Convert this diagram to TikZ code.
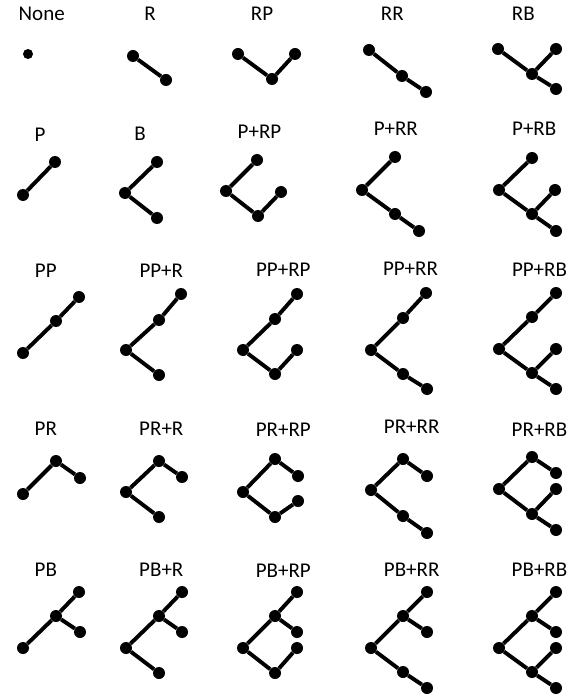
\documentclass[tikz,border=0pt]{standalone}
\usepackage{fontspec}
\setmainfont{Carlito}
\begin{document}
\begin{tikzpicture}[x=1pt,y=-1pt,
  dot/.style={circle,fill=black,inner sep=0pt,minimum size=12pt},
  edge/.style={line width=3.9pt,black},
  lbl/.style={anchor=base,inner sep=0pt,font=\fontsize{21}{25}\selectfont}]
\useasboundingbox (0,0) rectangle (579,700);
% ---------- labels ----------
\node[lbl] (tNone) at (41.7,20.5) {None};
\node[lbl] (tR) at (150,20.5) {R};
\node[lbl] (tRP) at (262,20.5) {RP};
\node[lbl] (tRR) at (392.3,20.5) {RR};
\node[lbl] (tRB) at (523.3,20.5) {RB};
\node[lbl] (tP) at (40,141.5) {P};
\node[lbl] (tB) at (140,141) {B};
\node[lbl] (tPRP) at (259.5,138.3) {P+RP};
\node[lbl] (tPRR) at (395.8,136) {P+RR};
\node[lbl] (tPRB) at (534.2,136) {P+RB};
\node[lbl] (tPP) at (45.8,277.3) {PP};
\node[lbl] (tPPR) at (161.3,277.3) {PP+R};
\node[lbl] (tPPRP) at (283.3,276.7) {PP+RP};
\node[lbl] (tPPRR) at (410.5,275) {PP+RR};
\node[lbl] (tPPRB) at (539.5,276.7) {PP+RB};
\node[lbl] (tPR) at (45.8,435) {PR};
\node[lbl] (tPRr) at (161.3,435) {PR+R};
\node[lbl] (tPRrp) at (283.3,436.7) {PR+RP};
\node[lbl] (tPRrr) at (411.7,433.3) {PR+RR};
\node[lbl] (tPRrb) at (539.5,436) {PR+RB};
\node[lbl] (tPB) at (45.8,576.7) {PB};
\node[lbl] (tPBR) at (161.3,576.7) {PB+R};
\node[lbl] (tPBRP) at (283.3,577) {PB+RP};
\node[lbl] (tPBRR) at (411.7,576.7) {PB+RR};
\node[lbl] (tPBRB) at (539.5,576.7) {PB+RB};
% ---------- row 1 ----------
\node[dot,minimum size=10pt] (none1) at (28,54) {};
\node[dot] (r1) at (133,56) {};
\node[dot] (r2) at (166,80) {};
\draw[edge] (r1) -- (r2);
\node[dot] (rp1) at (238,54) {};
\node[dot] (rp2) at (272,79) {};
\node[dot] (rp3) at (295,54) {};
\draw[edge] (rp1) -- (rp2) -- (rp3);
\node[dot] (rr1) at (369,50) {};
\node[dot] (rr2) at (402,76) {};
\node[dot] (rr3) at (426,92) {};
\draw[edge] (rr1) -- (rr2) -- (rr3);
\node[dot] (rb1) at (498,49) {};
\node[dot] (rb2) at (532,74) {};
\node[dot] (rb3) at (556,49) {};
\node[dot] (rb4) at (556,89) {};
\draw[edge] (rb1) -- (rb2) (rb2) -- (rb3) (rb2) -- (rb4);
% ---------- row 2 ----------
\node[dot] (p1) at (23,195) {};
\node[dot] (p2) at (55,162) {};
\draw[edge] (p1) -- (p2);
\node[dot] (b1) at (125,193) {};
\node[dot] (b2) at (157,162) {};
\node[dot] (b3) at (157,218) {};
\draw[edge] (b1) -- (b2) (b1) -- (b3);
\node[dot] (prp1) at (226,191) {};
\node[dot] (prp2) at (257,160) {};
\node[dot] (prp3) at (258,216) {};
\node[dot] (prp4) at (281,192) {};
\draw[edge] (prp1) -- (prp2) (prp1) -- (prp3) (prp3) -- (prp4);
\node[dot] (prr1) at (362,190) {};
\node[dot] (prr2) at (395,157) {};
\node[dot] (prr3) at (395,214) {};
\node[dot] (prr4) at (419,231) {};
\draw[edge] (prr1) -- (prr2) (prr1) -- (prr3) (prr3) -- (prr4);
\node[dot] (prb1) at (499,190) {};
\node[dot] (prb2) at (532,158) {};
\node[dot] (prb3) at (532,214) {};
\node[dot] (prb4) at (555,190) {};
\node[dot] (prb5) at (556,231) {};
\draw[edge] (prb1) -- (prb2) (prb1) -- (prb3) (prb3) -- (prb4) (prb3) -- (prb5);
% ---------- row 3 ----------
\node[dot] (pp1) at (23,353) {};
\node[dot] (pp2) at (56,321) {};
\node[dot] (pp3) at (79,297) {};
\draw[edge] (pp1) -- (pp2) -- (pp3);
\node[dot] (ppr1) at (126,350) {};
\node[dot] (ppr2) at (159,320) {};
\node[dot] (ppr3) at (181,294) {};
\node[dot] (ppr4) at (159,375) {};
\draw[edge] (ppr1) -- (ppr2) -- (ppr3) (ppr1) -- (ppr4);
\node[dot] (pprp1) at (243,350) {};
\node[dot] (pprp2) at (275,319) {};
\node[dot] (pprp3) at (297,294) {};
\node[dot] (pprp4) at (275,374) {};
\node[dot] (pprp5) at (297,350) {};
\draw[edge] (pprp1) -- (pprp2) -- (pprp3) (pprp1) -- (pprp4) -- (pprp5);
\node[dot] (pprr1) at (371,350) {};
\node[dot] (pprr2) at (403,318) {};
\node[dot] (pprr3) at (426,293) {};
\node[dot] (pprr4) at (403,374) {};
\node[dot] (pprr5) at (427,389) {};
\draw[edge] (pprr1) -- (pprr2) -- (pprr3) (pprr1) -- (pprr4) -- (pprr5);
\node[dot] (pprb1) at (499,349) {};
\node[dot] (pprb2) at (532,317) {};
\node[dot] (pprb3) at (556,293) {};
\node[dot] (pprb4) at (532,373) {};
\node[dot] (pprb5) at (556,349) {};
\node[dot] (pprb6) at (556,389) {};
\draw[edge] (pprb1) -- (pprb2) -- (pprb3) (pprb1) -- (pprb4) -- (pprb5) (pprb4) -- (pprb6);
% ---------- row 4 ----------
\node[dot] (pr1) at (23,494) {};
\node[dot] (pr2) at (56,461) {};
\node[dot] (pr3) at (80,478) {};
\draw[edge] (pr1) -- (pr2) -- (pr3);
\node[dot] (prR1) at (126,492) {};
\node[dot] (prR2) at (159,461) {};
\node[dot] (prR3) at (182,477) {};
\node[dot] (prR4) at (159,517) {};
\draw[edge] (prR1) -- (prR2) -- (prR3) (prR1) -- (prR4);
\node[dot] (prrp1) at (243,492) {};
\node[dot] (prrp2) at (275,459) {};
\node[dot] (prrp3) at (298,476) {};
\node[dot] (prrp4) at (275,517) {};
\node[dot] (prrp5) at (298,501) {};
\draw[edge] (prrp1) -- (prrp2) -- (prrp3) (prrp1) -- (prrp4) -- (prrp5);
\node[dot] (prrr1) at (371,490) {};
\node[dot] (prrr2) at (403,459) {};
\node[dot] (prrr3) at (427,476) {};
\node[dot] (prrr4) at (403,516) {};
\node[dot] (prrr5) at (427,533) {};
\draw[edge] (prrr1) -- (prrr2) -- (prrr3) (prrr1) -- (prrr4) -- (prrr5);
\node[dot] (prrb1) at (499,489) {};
\node[dot] (prrb2) at (532,457) {};
\node[dot] (prrb3) at (556,473) {};
\node[dot] (prrb4) at (532,514) {};
\node[dot] (prrb5) at (556,489) {};
\node[dot] (prrb6) at (556,530) {};
\draw[edge] (prrb1) -- (prrb2) -- (prrb3) (prrb1) -- (prrb4) -- (prrb5) (prrb4) -- (prrb6);
% ---------- row 5 ----------
\node[dot] (pb1) at (23,648) {};
\node[dot] (pb2) at (56,616) {};
\node[dot] (pb3) at (79,592) {};
\node[dot] (pb4) at (80,632) {};
\draw[edge] (pb1) -- (pb2) -- (pb3) (pb2) -- (pb4);
\node[dot] (pbr1) at (126,648) {};
\node[dot] (pbr2) at (159,616) {};
\node[dot] (pbr3) at (182,592) {};
\node[dot] (pbr4) at (182,632) {};
\node[dot] (pbr5) at (159,673) {};
\draw[edge] (pbr1) -- (pbr2) -- (pbr3) (pbr2) -- (pbr4) (pbr1) -- (pbr5);
\node[dot] (pbrp1) at (243,648) {};
\node[dot] (pbrp2) at (275,616) {};
\node[dot] (pbrp3) at (297,592) {};
\node[dot] (pbrp4) at (297,632) {};
\node[dot] (pbrp5) at (275,673) {};
\node[dot] (pbrp6) at (297,648) {};
\draw[edge] (pbrp1) -- (pbrp2) -- (pbrp3) (pbrp2) -- (pbrp4) (pbrp1) -- (pbrp5) -- (pbrp6);
\node[dot] (pbrr1) at (371,648) {};
\node[dot] (pbrr2) at (403,616) {};
\node[dot] (pbrr3) at (427,592) {};
\node[dot] (pbrr4) at (427,632) {};
\node[dot] (pbrr5) at (403,672) {};
\node[dot] (pbrr6) at (427,688) {};
\draw[edge] (pbrr1) -- (pbrr2) -- (pbrr3) (pbrr2) -- (pbrr4) (pbrr1) -- (pbrr5) -- (pbrr6);
\node[dot] (pbrb1) at (499,648) {};
\node[dot] (pbrb2) at (532,616) {};
\node[dot] (pbrb3) at (556,592) {};
\node[dot] (pbrb4) at (556,632) {};
\node[dot] (pbrb5) at (532,672) {};
\node[dot] (pbrb6) at (556,648) {};
\node[dot] (pbrb7) at (556,688) {};
\draw[edge] (pbrb1) -- (pbrb2) -- (pbrb3) (pbrb2) -- (pbrb4) (pbrb1) -- (pbrb5) -- (pbrb6) (pbrb5) -- (pbrb7);
\end{tikzpicture}
\end{document}
